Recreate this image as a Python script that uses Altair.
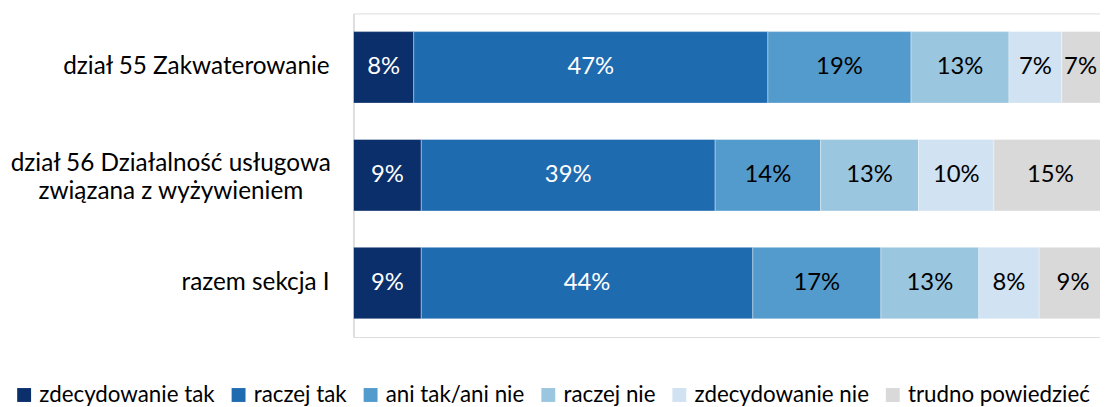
import altair as alt
import pandas as pd

categories = [
    "dział 55 Zakwaterowanie",
    "dział 56 Działalność usługowa\nzwiązana z wyżywieniem",
    "razem sekcja I",
]
responses = [
    "zdecydowanie tak",
    "raczej tak",
    "ani tak/ani nie",
    "raczej nie",
    "zdecydowanie nie",
    "trudno powiedzieć",
]
values_55 = [8, 47, 19, 13, 7, 7]
values_56 = [9, 39, 14, 13, 10, 15]
values_total = [9, 44, 17, 13, 8, 9]
colors = ["#0B2F6B", "#1F6BB0", "#549BCD", "#9BC6DF", "#D1E2F2", "#D9D9D9"]

rows = []
for cat, vals in zip(categories, [values_55, values_56, values_total]):
    for i, (r, v) in enumerate(zip(responses, vals)):
        rows.append({"cat": cat, "resp": r, "order": i, "value": v})
df = pd.DataFrame(rows)

FONT = "Lato"
W, H = 752, 326
XMAX = 0.9908
xscale = alt.Scale(domain=[0, XMAX], nice=False, zero=False)
yscale = alt.Scale(domain=categories, paddingInner=0.337, paddingOuter=0.1685)

base = (
    alt.Chart(df)
    .transform_calculate(pct="datum.value / 100")
    .transform_stack(stack="pct", groupby=["cat"], as_=["x0", "x1"],
                     sort=[alt.SortField("order", order="ascending")])
    .transform_calculate(mid="min((datum.x0 + datum.x1) / 2, 0.965)")
)

bars = base.mark_bar(clip=True, stroke="white", strokeWidth=0.6, strokeOpacity=0.6).encode(
    x=alt.X("x0:Q", scale=xscale, axis=None),
    x2="x1:Q",
    y=alt.Y("cat:N", scale=yscale,
            axis=alt.Axis(labels=False, ticks=False, title=None, domain=True,
                          domainColor="#D9D9D9", domainWidth=1.5, grid=False)),
    color=alt.Color("resp:N", scale=alt.Scale(domain=responses, range=colors),
                    legend=alt.Legend(title=None, orient="none", direction="horizontal",
                                      legendX=-343, legendY=373,
                                      symbolType="square", symbolSize=196,
                                      symbolStrokeWidth=0, labelFont=FONT,
                                      labelFontSize=22.5, labelColor="#000000",
                                      labelLimit=400, columnPadding=12,
                                      labelOffset=4, padding=0)),
)

labels = base.transform_calculate(lbl="datum.value + '%'").mark_text(
    font=FONT, fontSize=24, baseline="middle", align="center").encode(
    x=alt.X("mid:Q", scale=xscale),
    y=alt.Y("cat:N", scale=yscale),
    text="lbl:N",
    color=alt.condition(
        alt.FieldOneOfPredicate(field="resp", oneOf=responses[:2]),
        alt.value("white"), alt.value("black")),
)

cat_df = pd.DataFrame({"cat": categories})
cat_single = alt.Chart(cat_df).transform_filter(
    "indexof(datum.cat, '\\n') < 0"
).mark_text(font=FONT, fontSize=24.5, align="right", baseline="middle", color="black").encode(
    x=alt.value(-24), y=alt.Y("cat:N", scale=yscale), text="cat:N")
cat_multi = alt.Chart(cat_df).transform_filter(
    "indexof(datum.cat, '\\n') >= 0"
).mark_text(font=FONT, fontSize=24.5, align="center", baseline="middle", color="black",
            lineBreak="\n", lineHeight=28, dy=-11).encode(
    x=alt.value(-184), y=alt.Y("cat:N", scale=yscale), text="cat:N")

chart = (
    alt.layer(bars, labels, cat_single, cat_multi)
    .properties(width=W, height=H,
                autosize=alt.AutoSizeParams(type="none"),
                padding={"left": 348, "top": 4, "right": 0, "bottom": 69})
    .configure_view(stroke=None)
    .configure(background="white")
)

chart.save("out.html", embed_options={"renderer": "svg", "actions": False})
